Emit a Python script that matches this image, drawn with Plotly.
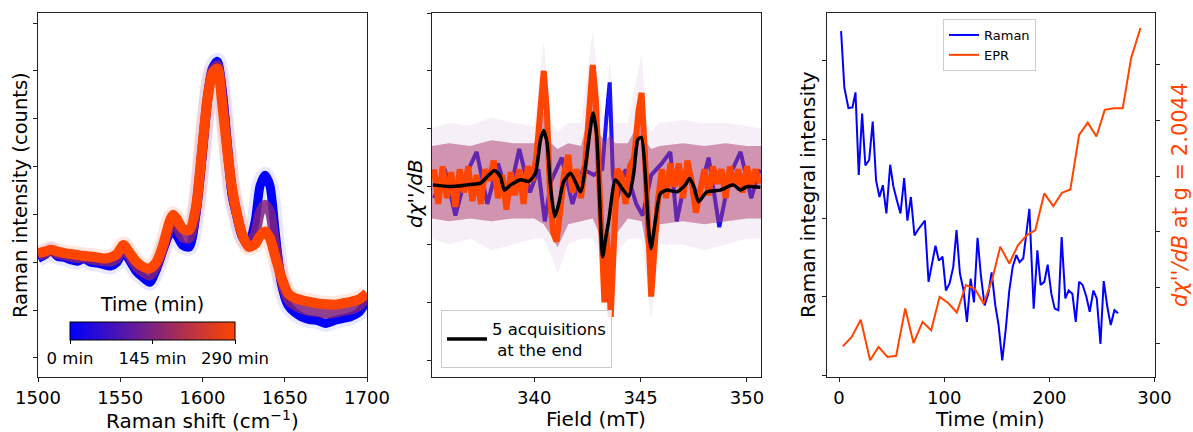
import plotly.graph_objects as go

W, H = 1193, 432
FONT = "DejaVu Sans"
BLUE = "#0000ff"
ORANGE = "#ff4500"
PURPLE = "#80237f"

# ---------------- Panel 1 : Raman spectra ----------------
raman_shift = [1500, 1504, 1508, 1512, 1516, 1520, 1524, 1528, 1532, 1536, 1540, 1544, 1548,
               1552, 1556, 1560, 1564, 1568, 1572, 1576, 1580, 1582, 1584, 1588, 1592, 1596,
               1600, 1603, 1606, 1609, 1612, 1615, 1618, 1621, 1624, 1628, 1632, 1635, 1638,
               1641, 1644, 1648, 1652, 1656, 1660, 1665, 1670, 1675, 1680, 1685, 1690, 1695, 1700]
spec_0min = [2.08, 2.15, 2.25, 2.12, 2.10, 2.05, 2.02, 2.08, 2.00, 1.98, 1.95, 1.92, 2.00,
             2.22, 2.02, 1.80, 1.68, 1.58, 1.85, 2.25, 2.60, 2.65, 2.58, 2.35, 2.32, 3.00,
             4.30, 5.40, 6.05, 6.20, 5.60, 4.50, 3.40, 2.95, 2.55, 2.38, 2.85, 3.60, 3.82,
             3.60, 2.70, 1.55, 1.10, 0.95, 0.86, 0.80, 0.78, 0.72, 0.78, 0.82, 0.86, 0.95, 1.20]
spec_145min = [2.14, 2.18, 2.25, 2.17, 2.15, 2.11, 2.09, 2.10, 2.06, 2.04, 2.02, 2.01, 2.08,
               2.30, 2.10, 1.90, 1.79, 1.72, 1.92, 2.30, 2.72, 2.82, 2.75, 2.52, 2.50, 3.08,
               4.38, 5.40, 6.00, 6.12, 5.45, 4.42, 3.48, 2.98, 2.58, 2.35, 2.60, 3.05, 3.20,
               3.05, 2.42, 1.62, 1.22, 1.10, 1.03, 0.98, 0.96, 0.92, 0.94, 0.98, 1.01, 1.08, 1.28]
spec_290min = [2.19, 2.22, 2.26, 2.22, 2.19, 2.17, 2.15, 2.13, 2.12, 2.10, 2.08, 2.10, 2.17,
               2.36, 2.18, 2.00, 1.90, 1.87, 2.00, 2.35, 2.85, 2.99, 2.92, 2.70, 2.67, 3.15,
               4.45, 5.40, 5.95, 6.05, 5.30, 4.35, 3.55, 3.00, 2.60, 2.32, 2.38, 2.55, 2.64,
               2.50, 2.15, 1.68, 1.35, 1.25, 1.21, 1.17, 1.14, 1.12, 1.11, 1.14, 1.17, 1.22, 1.35]
colorbar_ticks = [0, 145, 290]
colorbar_labels = ["0 min", "145 min", "290 min"]

# ---------------- Panel 2 : EPR spectra ----------------
field_avg = [335.24, 336.07, 336.85, 337.48, 337.79, 338.14, 338.42, 338.6, 338.9, 339.36,
             339.75, 340.06, 340.3, 340.45, 340.61, 340.77, 340.97, 341.16, 341.39, 341.71,
             342.18, 342.41, 342.61, 342.77, 342.93, 343.08, 343.22, 343.35, 343.51, 343.82,
             344.13, 344.44, 344.68, 344.87, 345.04, 345.23, 345.38, 345.49, 345.7, 345.93,
             346.24, 346.71, 347.1, 347.31, 347.5, 347.73, 348.12, 348.75, 349.37, 349.69,
             350.0, 350.63]
epr_avg = [0.03, 0.0, 0.03, 0.06, 0.17, 0.28, 0.17, -0.06, 0.03, 0.12,
           0.09, 0.23, 0.81, 0.97, 0.75, 0.0, -0.52, -0.29, 0.09, 0.23,
           -0.09, 0.35, 0.92, 1.27, 0.92, -0.23, -1.21, -0.92, -0.58, 0.12,
           -0.03, -0.17, 0.23, 0.81, 0.85, 0.17, -0.75, -1.07, -0.58, -0.12,
           -0.06, -0.09, 0.03, 0.14, 0.0, -0.26, -0.09, -0.06, 0.03, -0.06,
           0.0, -0.01]

field_last = [335.3, 335.5, 335.7, 335.9, 336.1, 336.3, 336.5, 336.7, 336.9, 337.1, 337.3,
              337.5, 337.7, 337.9, 338.1, 338.3, 338.5, 338.7, 338.9, 339.1, 339.3, 339.5,
              339.7, 339.9, 340.1, 340.3, 340.45, 340.6, 340.75, 340.9, 341.05, 341.2, 341.4,
              341.6, 341.8, 342.0, 342.2, 342.4, 342.55, 342.75, 342.9, 343.05, 343.2, 343.3,
              343.4, 343.5, 343.6, 343.75, 343.9, 344.1, 344.3, 344.5, 344.7, 344.9, 345.05,
              345.2, 345.35, 345.5, 345.65, 345.8, 346.0, 346.2, 346.4, 346.6, 346.8, 347.0,
              347.2, 347.4, 347.6, 347.8, 348.0, 348.2, 348.4, 348.6, 348.8, 349.0, 349.2,
              349.4, 349.6, 349.8, 350.0, 350.2, 350.4, 350.6]
epr_last = [0.3, -0.3, 0.35, -0.2, 0.25, -0.35, 0.3, -0.1, 0.35, -0.25, 0.2,
            -0.3, 0.3, 0.1, 0.45, -0.2, 0.2, -0.4, 0.25, -0.15, 0.3, -0.3,
            0.35, 0.1, 0.5, 1.4, 2.0, 1.3, -0.2, -0.8, -0.95, -0.5, 0.2,
            0.55, -0.1, 0.3, -0.2, 0.4, 1.2, 2.1, 1.5, 0.2, -1.5, -2.0,
            -0.8, -1.3, -2.25, -1.0, 0.3, 0.2, -0.3, 0.35, 0.5, 1.3, 1.62,
            0.6, -1.0, -1.9, -1.1, -0.3, 0.3, -0.2, 0.4, 0.0, 0.4, -0.2,
            0.45, 0.1, -0.45, -0.1, 0.3, -0.15, 0.35, 0.05, 0.3, -0.2, 0.35,
            0.0, 0.3, -0.1, 0.35, 0.0, 0.3, 0.05]

field_first = [335.3, 335.8, 336.3, 336.8, 337.3, 337.8, 338.3, 338.8, 339.3, 339.8, 340.2,
               340.5, 340.8, 341.3, 341.8, 342.3, 342.8, 343.2, 343.4, 343.55, 343.7, 343.9,
               344.3, 344.8, 345.1, 345.5, 346.0, 346.4, 346.7, 347.2, 347.7, 348.2, 348.7,
               349.2, 349.7, 350.2, 350.6]
epr_first = [-0.2, 0.3, -0.5, 0.2, 0.6, -0.3, 0.4, -0.2, 0.65, -0.1, 0.3,
             -0.6, 0.1, 0.5, -0.3, 0.3, 0.2, 0.3, 1.2, 1.8, 0.2, -0.2,
             0.3, -0.3, -0.5, 0.2, 0.4, 0.6, -0.6, 0.3, -0.2, 0.5, -0.7,
             0.2, 0.6, -0.2, 0.3]

field_env = [335.2, 336.0, 337.0, 338.0, 339.0, 340.0, 340.45, 340.8, 341.1, 341.6, 342.2,
             342.75, 343.1, 343.35, 343.55, 343.8, 344.4, 345.05, 345.3, 345.5, 345.9,
             347.0, 348.0, 349.0, 350.0, 350.66]
band_upper = [0.7, 0.75, 0.7, 0.8, 0.75, 0.75, 1.3, 0.75, 0.65, 0.75, 0.7,
              1.5, 0.9, 0.75, 0.9, 0.75, 0.75, 1.2, 0.75, 0.65, 0.7,
              0.75, 0.7, 0.75, 0.7, 0.7]
band_lower = [-0.55, -0.6, -0.55, -0.6, -0.55, -0.55, -0.65, -0.85, -1.05, -0.65, -0.6,
              -0.55, -0.85, -1.7, -1.8, -0.85, -0.55, -0.6, -1.1, -1.5, -0.65,
              -0.6, -0.65, -0.6, -0.55, -0.55]
halo_upper = [1.0, 1.1, 1.05, 1.2, 1.1, 1.05, 2.5, 1.1, 0.95, 1.1, 1.1,
              2.7, 1.5, 1.1, 2.2, 1.1, 1.1, 2.3, 1.1, 0.95, 1.1,
              1.15, 1.1, 1.1, 1.05, 1.0]
halo_lower = [-0.9, -1.0, -0.9, -1.1, -1.0, -0.9, -0.9, -1.2, -1.5, -1.0, -0.9,
              -0.9, -1.2, -2.2, -2.3, -1.2, -0.9, -0.9, -1.7, -2.3, -1.0,
              -1.0, -1.1, -1.0, -0.9, -0.9]

# ---------------- Panel 3 : time evolution ----------------
raman_time = [1.9, 5.0, 8.9, 12.7, 15.6, 18.7, 21.9, 25.0, 28.6, 32.0, 35.2, 38.4, 41.6, 45.0,
              48.6, 51.7, 54.9, 58.4, 61.9, 65.0, 68.3, 71.7, 74.9, 81.6, 85.1, 88.3, 91.7,
              94.9, 98.4, 101.6, 105.1, 108.6, 111.7, 114.9, 118.4, 121.6, 125.1, 128.3,
              131.7, 134.9, 138.4, 141.9, 145.1, 148.6, 151.7, 155.2, 158.4, 161.9, 165.1,
              168.6, 171.7, 175.2, 178.4, 181.0, 185.1, 188.6, 191.7, 195.2, 198.4, 201.9,
              205.1, 208.6, 211.7, 215.2, 218.4, 221.9, 225.1, 228.3, 231.7, 235.2, 238.4,
              241.9, 245.1, 248.6, 251.7, 255.2, 258.4, 261.9, 265.4]
raman_integral = [4.38, 3.66, 3.40, 3.41, 3.60, 2.55, 3.33, 2.67, 2.74, 3.23, 2.48, 2.27, 2.42,
                  2.06, 2.68, 2.40, 2.23, 2.06, 2.51, 1.97, 2.27, 1.78, 1.85, 1.97, 1.19, 1.42,
                  1.65, 1.46, 1.51, 1.08, 1.17, 1.38, 1.85, 1.30, 1.08, 0.68, 1.23, 0.93,
                  1.75, 1.27, 0.89, 1.04, 1.31, 0.89, 0.64, 0.19, 0.57, 1.08, 1.38,
                  1.53, 1.44, 1.49, 1.80, 2.12, 0.85, 1.59, 1.15, 1.19, 1.41, 1.04,
                  0.85, 0.83, 1.76, 0.98, 1.08, 1.04, 0.68, 1.19, 1.15, 1.00, 0.81,
                  1.08, 0.98, 0.40, 1.20, 0.87, 0.64, 0.83, 0.79]
epr_time = [3.5, 12.0, 20.6, 29.5, 37.5, 46.0, 54.3, 62.9, 70.8, 79.4, 87.6, 95.6, 103.8,
            112.0, 120.6, 128.9, 137.5, 145.4, 153.3, 161.9, 170.2, 178.7, 186.7, 195.2,
            203.8, 212.0, 220.0, 228.3, 236.5, 244.8, 252.7, 261.3, 269.8, 277.8, 286.7]
epr_g20044 = [-0.06, 0.11, 0.42, -0.31, -0.07, -0.25, -0.23, 0.62, 0.0, 0.38, 0.23, 0.83, 0.72,
              0.55, 1.04, 0.98, 0.71, 1.13, 1.73, 1.43, 1.76, 1.94, 2.03, 2.69,
              2.46, 2.70, 2.76, 3.74, 3.96, 3.71, 4.19, 4.22, 4.22, 5.12, 5.66]

fig = go.Figure()

# Panel 1 traces
fig.add_trace(go.Scatter(x=raman_shift, y=spec_0min, mode="lines", xaxis="x", yaxis="y",
                         line=dict(color="rgba(110,110,255,0.16)", width=17, shape="spline",
                                   smoothing=0.7),
                         showlegend=False, hoverinfo="skip"))
fig.add_trace(go.Scatter(x=raman_shift, y=spec_290min, mode="lines", xaxis="x", yaxis="y",
                         line=dict(color="rgba(255,120,80,0.18)", width=17, shape="spline",
                                   smoothing=0.7),
                         showlegend=False, hoverinfo="skip"))
fig.add_trace(go.Scatter(x=raman_shift, y=spec_0min, mode="lines", xaxis="x", yaxis="y",
                         line=dict(color=BLUE, width=9, shape="spline", smoothing=0.7),
                         showlegend=False))
fig.add_trace(go.Scatter(x=raman_shift, y=spec_145min, mode="lines", xaxis="x", yaxis="y",
                         line=dict(color=PURPLE, width=10, shape="spline", smoothing=0.7),
                         opacity=0.85, showlegend=False))
fig.add_trace(go.Scatter(x=raman_shift, y=spec_290min, mode="lines", xaxis="x", yaxis="y",
                         line=dict(color=ORANGE, width=10, shape="spline", smoothing=0.7),
                         showlegend=False))
# colourbar holder
fig.add_trace(go.Scatter(
    x=[raman_shift[0], raman_shift[0]], y=[spec_0min[0], spec_0min[0]], mode="markers",
    xaxis="x", yaxis="y", opacity=0, showlegend=False, hoverinfo="skip",
    marker=dict(size=1, color=[colorbar_ticks[0], colorbar_ticks[-1]], cmin=colorbar_ticks[0],
                cmax=colorbar_ticks[-1], colorscale=[[0, BLUE], [1, ORANGE]], showscale=True,
                colorbar=dict(orientation="h", x=152.5 / W, xanchor="center",
                              y=1 - 322 / H, yanchor="top", len=165 / W, lenmode="fraction",
                              thickness=18, thicknessmode="pixels", xpad=0, ypad=0,
                              outlinecolor="black", outlinewidth=1,
                              tickvals=colorbar_ticks, ticktext=colorbar_labels,
                              ticks="outside", ticklen=4, tickcolor="black",
                              tickfont=dict(family=FONT, size=16.5, color="black")))))

# Panel 2 traces
fig.add_trace(go.Scatter(x=field_first, y=epr_first, mode="lines", xaxis="x2", yaxis="y2",
                         line=dict(color=BLUE, width=4), showlegend=False))
fig.add_trace(go.Scatter(x=field_env, y=halo_lower, mode="lines", xaxis="x2", yaxis="y2",
                         line=dict(width=0, color="rgba(0,0,0,0)"), showlegend=False,
                         hoverinfo="skip"))
fig.add_trace(go.Scatter(x=field_env, y=halo_upper, mode="lines", xaxis="x2", yaxis="y2",
                         fill="tonexty", fillcolor="rgba(190,140,200,0.14)",
                         line=dict(width=0, color="rgba(0,0,0,0)"), showlegend=False,
                         hoverinfo="skip"))
fig.add_trace(go.Scatter(x=field_env, y=band_lower, mode="lines", xaxis="x2", yaxis="y2",
                         line=dict(width=0, color="rgba(0,0,0,0)"), showlegend=False,
                         hoverinfo="skip"))
fig.add_trace(go.Scatter(x=field_env, y=band_upper, mode="lines", xaxis="x2", yaxis="y2",
                         fill="tonexty", fillcolor="rgba(170,55,105,0.5)",
                         line=dict(width=0, color="rgba(0,0,0,0)"), showlegend=False,
                         hoverinfo="skip"))
fig.add_trace(go.Scatter(x=field_last, y=epr_last, mode="lines", xaxis="x2", yaxis="y2",
                         line=dict(color=ORANGE, width=6), showlegend=False))
fig.add_trace(go.Scatter(x=field_avg, y=epr_avg, mode="lines", xaxis="x2", yaxis="y2",
                         line=dict(color="black", width=3.5, shape="spline", smoothing=0.6),
                         name="5 acquisitions<br>\u00a0at the end", legend="legend"))

# Panel 3 traces
fig.add_trace(go.Scatter(x=raman_time, y=raman_integral, mode="lines", xaxis="x3", yaxis="y3",
                         line=dict(color=BLUE, width=2), name="Raman", legend="legend2"))
fig.add_trace(go.Scatter(x=epr_time, y=epr_g20044, mode="lines", xaxis="x3", yaxis="y4",
                         line=dict(color=ORANGE, width=2), name="EPR", legend="legend2"))

ax_common = dict(showline=True, linecolor="#222", linewidth=1, mirror=True, ticks="outside",
                 ticklen=4, tickcolor="#222", showgrid=False, zeroline=False,
                 tickfont=dict(family=FONT, size=18, color="black"))
ydom = [1 - 377 / H, 1 - 13 / H]

fig.update_layout(
    width=W, height=H, margin=dict(l=0, r=0, t=0, b=0, autoexpand=False),
    paper_bgcolor="white", plot_bgcolor="white",
    font=dict(family=FONT, color="black"),
    xaxis=dict(ax_common, domain=[38 / W, 367 / W], range=[1500, 1700],
               tickvals=[1500, 1550, 1600, 1650, 1700], anchor="y"),
    yaxis=dict(ax_common, domain=ydom, range=[-0.40, 7.21], tickvals=list(range(8)),
               showticklabels=False, anchor="x"),
    xaxis2=dict(ax_common, domain=[432 / W, 761 / W], range=[335.2, 350.66],
                tickvals=[340, 345, 350], anchor="y2"),
    yaxis2=dict(ax_common, domain=ydom, range=[-3.29, 3.0], tickvals=[-3, -2, -1, 0, 1, 2, 3],
                showticklabels=False, anchor="x2"),
    xaxis3=dict(ax_common, domain=[827 / W, 1155 / W], range=[-11.5, 300.5],
                tickvals=[0, 100, 200, 300], anchor="y3"),
    yaxis3=dict(ax_common, domain=ydom, range=[-0.02, 4.61], tickvals=[0, 1, 2, 3, 4],
                showticklabels=False, anchor="x3", mirror=False),
    yaxis4=dict(ax_common, domain=ydom, range=[-0.61, 5.93], tickvals=[0, 1, 2, 3, 4, 5],
                showticklabels=False, anchor="x3", overlaying="y3", side="right", mirror=False),
    legend=dict(x=441 / W, y=1 - 368 / H, xanchor="left", yanchor="bottom",
                bgcolor="rgba(255,255,255,0.85)", bordercolor="#cccccc", borderwidth=1,
                font=dict(family=FONT, size=16.5, color="black"), itemwidth=40),
    legend2=dict(x=943 / W, y=1 - 19 / H, xanchor="left", yanchor="top",
                 bgcolor="rgba(255,255,255,0.85)", bordercolor="#cccccc", borderwidth=1,
                 font=dict(family=FONT, size=13, color="black"), itemwidth=30,
                 tracegroupgap=0),
)

def ann(text, px, py, angle=0, color="black", size=20):
    fig.add_annotation(text=text, x=px / W, y=1 - py / H, xref="paper", yref="paper",
                       showarrow=False, textangle=angle, xanchor="center", yanchor="middle",
                       font=dict(family=FONT, size=size, color=color))

ann("Raman shift (cm<sup>\u22121</sup>)", 202, 420)
ann("Raman intensity (counts)", 21, 195, angle=-90, size=19.5)
ann("Time (min)", 152, 304, size=19)
ann("Field (mT)", 596, 419)
ann("<i>d\u03c7''/dB</i>", 415, 194, angle=-90)
ann("Time (min)", 990, 419)
ann("Raman integral intensity", 808, 195, angle=-90, size=20)
ann("<i>d\u03c7''/dB</i> at g = 2.0044", 1180, 195, angle=-90, color=ORANGE, size=21)

fig.write_html("out.html")
